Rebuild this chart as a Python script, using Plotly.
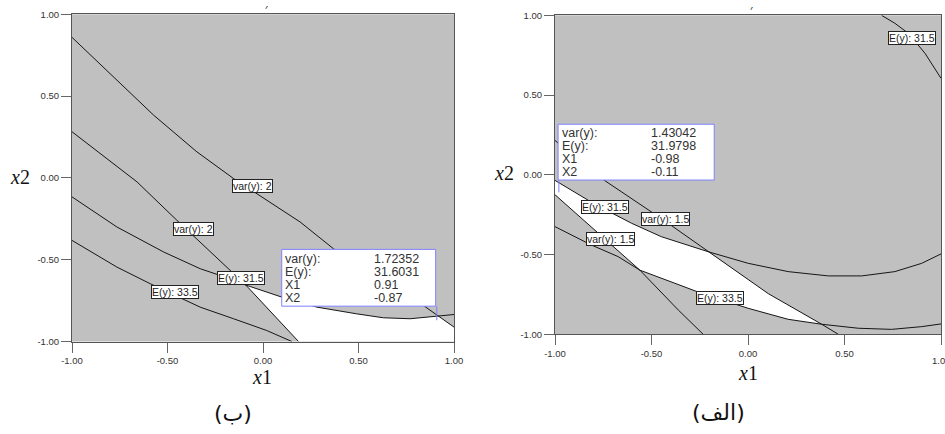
import numpy as np
import plotly.graph_objects as go

# ---------------- data: panel (ب) (left) ----------------
b_var_hi_x = [-1.0, -0.573, -0.346, -0.154, 0.194, 0.369, 0.60, 0.840, 1.0]
b_var_hi_y = [0.859, 0.384, 0.159, -0.004, -0.269, -0.433, -0.603, -0.780, -0.912]
b_var_lo_x = [-1.0, -0.66, -0.451, -0.172, -0.09, 0.186]
b_var_lo_y = [0.282, -0.024, -0.259, -0.565, -0.655, -1.0]
b_E315_x = [-1.0, -0.765, -0.52, -0.329, -0.215, -0.09, 0.089, 0.282, 0.491, 0.630, 0.770, 0.892, 1.0]
b_E315_y = [-0.116, -0.300, -0.453, -0.555, -0.600, -0.655, -0.725, -0.790, -0.831, -0.855, -0.861, -0.847, -0.835]
b_E335_x = [-1.0, -0.765, -0.59, -0.329, -0.154, 0.020, 0.151]
b_E335_y = [-0.382, -0.545, -0.647, -0.790, -0.861, -0.933, -1.0]
b_labels = ["var(y): 2", "var(y): 2", "E(y): 31.5", "E(y): 33.5"]
b_label_x = [-0.055, -0.362, -0.117, -0.459]
b_label_y = [-0.051, -0.312, -0.614, -0.698]
b_flag_names = ["var(y):", "E(y):", "X1", "X2"]
b_flag_values = ["1.72352", "31.6031", "0.91", "-0.87"]
b_point = (0.91, -0.87)

# ---------------- data: panel (الف) (right) ----------------
a_var_hi_x = [-1.0, -0.75, -0.43, -0.206, 0.105, 0.382, 0.468]
a_var_hi_y = [0.215, -0.03, -0.29, -0.482, -0.745, -0.937, -1.0]
a_var_lo_x = [-1.0, -0.56, -0.361, -0.232]
a_var_lo_y = [-0.125, -0.598, -0.848, -1.0]
a_E315_lo_x = [-1.0, -0.80, -0.603, -0.449, -0.207, 0.001, 0.208, 0.416, 0.589, 0.761, 0.900, 1.0]
a_E315_lo_y = [-0.035, -0.18, -0.304, -0.388, -0.482, -0.555, -0.607, -0.634, -0.634, -0.607, -0.555, -0.496]
a_E315_hi_x = [0.692, 0.761, 0.831, 0.917, 1.0]
a_E315_hi_y = [1.0, 0.95, 0.887, 0.762, 0.605]
a_E335_x = [-1.0, -0.812, -0.673, -0.560, -0.379, -0.241, 0.001, 0.208, 0.382, 0.571, 0.744, 0.900, 1.0]
a_E335_y = [-0.325, -0.440, -0.513, -0.598, -0.680, -0.743, -0.837, -0.906, -0.937, -0.962, -0.969, -0.952, -0.935]
a_labels = ["E(y): 31.5", "E(y): 31.5", "var(y): 1.5", "var(y): 1.5", "E(y): 33.5"]
a_label_x = [0.848, -0.742, -0.430, -0.710, -0.146]
a_label_y = [0.856, -0.204, -0.279, -0.404, -0.770]
a_flag_names = ["var(y):", "E(y):", "X1", "X2"]
a_flag_values = ["1.43042", "31.9798", "-0.98", "-0.11"]
a_point = (-0.98, -0.11)

tick_vals = [-1.0, -0.5, 0.0, 0.5, 1.0]
tick_text = ["-1.00", "-0.50", "0.00", "0.50", "1.00"]

GRAY = "#c0c0c0"
LINE = "#151515"
FLAG = "#8080ff"
NARROW = "Liberation Sans Narrow, Arial Narrow, Liberation Sans, Arial, sans-serif"

fig = go.Figure()

xg = np.linspace(-1, 1, 4001)


def white_region(upper, lower, xa, ya):
    mask = upper > lower + 1e-9
    idx = np.where(mask)[0]
    if len(idx) == 0:
        return
    runs = np.split(idx, np.where(np.diff(idx) != 1)[0] + 1)
    for r in runs:
        if len(r) < 2:
            continue
        xs = np.concatenate([xg[r], xg[r][::-1]])
        ys = np.concatenate([upper[r], lower[r][::-1]])
        fig.add_trace(go.Scatter(x=xs, y=ys, fill="toself", fillcolor="white",
                                 mode="none", hoverinfo="skip", showlegend=False,
                                 xaxis=xa, yaxis=ya))


# left feasible region
b_up = np.minimum(np.interp(xg, b_E315_x, b_E315_y), np.interp(xg, b_var_hi_x, b_var_hi_y))
b_lo = np.maximum.reduce([np.interp(xg, b_var_lo_x, b_var_lo_y, right=-1.0),
                          np.interp(xg, b_E335_x, b_E335_y, right=-1.0),
                          np.full_like(xg, -1.0)])
white_region(b_up, b_lo, "x", "y")

# right feasible region
a_up = np.minimum.reduce([np.interp(xg, a_E315_lo_x, a_E315_lo_y),
                          np.interp(xg, a_var_hi_x, a_var_hi_y, right=-1.0),
                          np.full_like(xg, 1.0)])
a_lo = np.maximum.reduce([np.interp(xg, a_var_lo_x, a_var_lo_y, right=-1.0),
                          np.interp(xg, a_E335_x, a_E335_y),
                          np.full_like(xg, -1.0)])
white_region(a_up, a_lo, "x2", "y2")

for xs, ys in [(b_var_hi_x, b_var_hi_y), (b_var_lo_x, b_var_lo_y),
               (b_E315_x, b_E315_y), (b_E335_x, b_E335_y)]:
    fig.add_trace(go.Scatter(x=xs, y=ys, mode="lines", line=dict(color=LINE, width=1),
                             hoverinfo="skip", showlegend=False, xaxis="x", yaxis="y"))
for xs, ys in [(a_var_hi_x, a_var_hi_y), (a_var_lo_x, a_var_lo_y),
               (a_E315_lo_x, a_E315_lo_y), (a_E315_hi_x, a_E315_hi_y), (a_E335_x, a_E335_y)]:
    fig.add_trace(go.Scatter(x=xs, y=ys, mode="lines", line=dict(color=LINE, width=1),
                             hoverinfo="skip", showlegend=False, xaxis="x2", yaxis="y2"))

annotations = []
shapes = []

# contour labels
for txt, lx, ly in zip(b_labels, b_label_x, b_label_y):
    annotations.append(dict(x=lx, y=ly, xref="x", yref="y", text=txt, showarrow=False,
                            font=dict(family=NARROW, size=10.5, color="#222"),
                            bgcolor="white", bordercolor="#222", borderwidth=1, borderpad=0))
for txt, lx, ly in zip(a_labels, a_label_x, a_label_y):
    annotations.append(dict(x=lx, y=ly, xref="x2", yref="y2", text=txt, showarrow=False,
                            font=dict(family=NARROW, size=10.5, color="#222"),
                            bgcolor="white", bordercolor="#222", borderwidth=1, borderpad=0))


def flag(xr, yr, px, py, x0, x1, ytop, ybot, names, values, vx_off):
    shapes.append(dict(type="rect", xref=xr, yref=yr, x0=x0, x1=x1, y0=ybot, y1=ytop,
                       line=dict(color=FLAG, width=1), fillcolor="white", layer="above"))
    shapes.append(dict(type="line", xref=xr, yref=yr, x0=px, x1=px, y0=ybot, y1=py,
                       line=dict(color=FLAG, width=1), layer="above"))
    for i, (n, v) in enumerate(zip(names, values)):
        yy = ytop - 0.057 - i * 0.081
        annotations.append(dict(x=x0 + 0.008, y=yy, xref=xr, yref=yr, text=n, showarrow=False,
                                xanchor="left", yanchor="middle",
                                font=dict(family=NARROW, size=12.5, color="#333")))
        annotations.append(dict(x=x0 + vx_off, y=yy, xref=xr, yref=yr, text=v, showarrow=False,
                                xanchor="left", yanchor="middle",
                                font=dict(family=NARROW, size=12.5, color="#333")))


flag("x", "y", b_point[0], b_point[1], b_point[0] - 0.812, b_point[0] - 0.006,
     -0.437, -0.784, b_flag_names, b_flag_values, 0.472)
flag("x2", "y2", a_point[0], a_point[1], a_point[0] - 0.004, a_point[0] + 0.805,
     0.317, -0.033, a_flag_names, a_flag_values, 0.472)

# axis titles and captions
title_font = dict(family="Liberation Serif, DejaVu Serif, serif", size=20, color="#111")
for txt, px, py in [("<i>x</i>1", 262, 377), ("<i>x</i>1", 748, 373),
                    ("<i>x</i>2", 20, 177), ("<i>x</i>2", 504, 173)]:
    annotations.append(dict(x=px / 945, y=1 - py / 434, xref="paper", yref="paper",
                            xanchor="center", yanchor="middle",
                            text=txt, showarrow=False, font=title_font))
for txt, px, py in [("(ب)", 233, 413), ("(الف)", 718, 412)]:
    annotations.append(dict(x=px / 945, y=1 - py / 434, xref="paper", yref="paper",
                            xanchor="center", yanchor="middle",
                            text=txt, showarrow=False,
                            font=dict(family="DejaVu Sans, Noto Sans, sans-serif", size=22, color="#111")))
# right panel's last x tick label runs past the page edge (shown clipped, as in the original)
annotations.append(dict(x=tick_vals[-1], y=1 - 360 / 434, xref="x2", yref="paper",
                        xanchor="center", yanchor="middle", text=tick_text[-1], showarrow=False,
                        font=dict(family=NARROW, size=9.5, color="#333")))
# small mark at top of each panel
annotations.append(dict(x=0.016, y=1.0, xref="x", yref="y", text="′", showarrow=False,
                        yanchor="middle", yshift=5, font=dict(size=11, color="#111")))
annotations.append(dict(x=0.02, y=1.0, xref="x2", yref="y2", text="′", showarrow=False,
                        yanchor="middle", yshift=5, font=dict(size=11, color="#111")))

axis_common = dict(range=[-1, 1], showgrid=False, zeroline=False, showline=True, mirror=True,
                   linecolor="#555", linewidth=1, ticks="outside", ticklen=10, tickcolor="#666",
                   tickwidth=1, tickvals=tick_vals, ticktext=tick_text, automargin=False,
                   tickfont=dict(family=NARROW, size=9.5, color="#333"), fixedrange=True)

fig.update_layout(
    template="none",
    width=945, height=434, margin=dict(l=0, r=0, t=0, b=0, autoexpand=False),
    paper_bgcolor="white", plot_bgcolor=GRAY, showlegend=False,
    xaxis=dict(domain=[72 / 945, 454 / 945], anchor="y", **axis_common),
    yaxis=dict(domain=[1 - 341.5 / 434, 1 - 14.3 / 434], anchor="x", **axis_common),
    xaxis2=dict(domain=[555 / 945, 941 / 945], anchor="y2", **axis_common),
    yaxis2=dict(domain=[1 - 334.3 / 434, 1 - 15.3 / 434], anchor="x2", **axis_common),
    annotations=annotations, shapes=shapes,
)

fig.write_html("out.html", config={"displayModeBar": False},
               post_script="document.body.style.margin='0';document.body.style.overflow='hidden';")
